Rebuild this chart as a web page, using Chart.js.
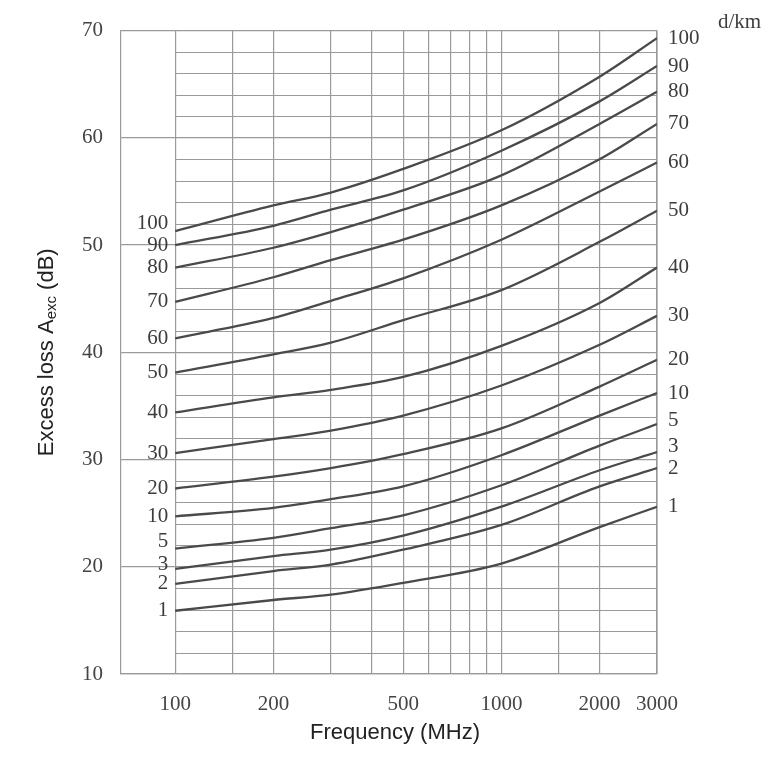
<!DOCTYPE html>
<html>
<head>
<meta charset="UTF-8">
<title>Excess loss vs frequency</title>
<script src="https://cdn.jsdelivr.net/npm/chart.js"></script>
<style>
    html, body { margin: 0; padding: 0; background: #fff; }
    #wrap { width: 777px; height: 772px; }
</style>
</head>
<body>
<div id="wrap"><canvas id="chart"></canvas></div>
<script>
// frequencies where the curves were read (MHz)
const freqs = [100, 200, 300, 500, 1000, 2000, 3000];
// vertical grid lines and labelled ticks
const freqGrid = [100, 150, 200, 300, 400, 500, 600, 700, 800, 900, 1000, 1500, 2000, 3000];
const freqLabels = [100, 200, 500, 1000, 2000, 3000];
// loss axis
const lossTicks = [10, 20, 30, 40, 50, 60, 70];
const lossMinor = [12, 14, 16, 18, 22, 24, 26, 28, 32, 34, 36, 38, 42, 44, 46, 48, 52, 54, 56, 58, 62, 64, 66, 68];

// excess loss (dB) per distance d/km
const d1   = [15.9, 16.9, 17.4, 18.5, 20.3, 23.7, 25.6];
const d2   = [18.4, 19.6, 20.2, 21.6, 23.9, 27.5, 29.2];
const d3   = [19.8, 21.0, 21.6, 22.9, 25.6, 29.0, 30.7];
const d5   = [21.7, 22.7, 23.6, 24.8, 27.6, 31.3, 33.3];
const d10  = [24.7, 25.5, 26.3, 27.5, 30.4, 34.1, 36.2];
const d20  = [27.3, 28.4, 29.2, 30.5, 32.9, 36.8, 39.3];
const d30  = [30.6, 31.9, 32.7, 34.1, 36.9, 40.7, 43.4];
const d40  = [34.4, 35.8, 36.5, 37.7, 40.6, 44.6, 47.9];
const d50  = [38.1, 39.8, 40.9, 43.0, 45.8, 50.3, 53.2];
const d60  = [41.3, 43.2, 44.8, 46.9, 50.5, 55.0, 57.7];
const d70  = [44.7, 47.0, 48.6, 50.5, 53.7, 58.0, 61.3];
const d80  = [47.9, 49.75, 51.2, 53.3, 56.5, 61.3, 64.3];
const d90  = [50.0, 51.8, 53.3, 55.1, 58.8, 63.4, 66.7];
const d100 = [51.3, 53.7, 54.9, 57.1, 60.7, 65.7, 69.3];

const distances = [1, 2, 3, 5, 10, 20, 30, 40, 50, 60, 70, 80, 90, 100];
const series = [d1, d2, d3, d5, d10, d20, d30, d40, d50, d60, d70, d80, d90, d100];

const serif = '"Liberation Serif", "DejaVu Serif", serif';
const sans = '"Liberation Sans", Arial, sans-serif';
const gridColor = '#9a9a9a';
const curveColor = '#4a4a4a';

// label nudges so they don't collide
const leftShift = { 100: -8, 5: -7, 3: -4 };
const rightShift = { 5: -4, 3: -6 };

const datasets = series.map((vals, i) => ({
    label: String(distances[i]),
    data: freqs.map((f, j) => ({ x: f, y: vals[j] })),
    borderColor: curveColor,
    borderWidth: 2.3,
    pointRadius: 0,
    fill: false,
    cubicInterpolationMode: 'monotone'
}));

const extras = {
    id: 'extras',
    beforeDatasetsDraw(chart) {
        const { ctx, chartArea, scales } = chart;
        const x0 = scales.x.getPixelForValue(freqGrid[0]);
        ctx.save();
        ctx.strokeStyle = gridColor;
        ctx.lineWidth = 1.2;
        lossMinor.forEach(v => {
            const y = Math.round(scales.y.getPixelForValue(v)) + 0.5;
            ctx.beginPath();
            ctx.moveTo(x0, y);
            ctx.lineTo(chartArea.right, y);
            ctx.stroke();
        });
        // right frame
        ctx.beginPath();
        ctx.moveTo(chartArea.right, chartArea.top);
        ctx.lineTo(chartArea.right, chartArea.bottom);
        ctx.stroke();
        ctx.restore();
    },
    afterDatasetsDraw(chart) {
        const { ctx, scales } = chart;
        ctx.save();
        ctx.fillStyle = '#3c3c3c';
        ctx.font = '21px ' + serif;
        ctx.textBaseline = 'middle';
        series.forEach((vals, i) => {
            const d = distances[i];
            const yl = scales.y.getPixelForValue(vals[0]) + (leftShift[d] || 0);
            ctx.textAlign = 'right';
            ctx.fillText(String(d), scales.x.getPixelForValue(freqs[0]) - 7, yl);
            const yr = scales.y.getPixelForValue(vals[vals.length - 1]) + (rightShift[d] || 0);
            ctx.textAlign = 'left';
            ctx.fillText(String(d), scales.x.getPixelForValue(freqs[freqs.length - 1]) + 11, yr);
        });
        ctx.textAlign = 'left';
        ctx.fillText('d/km', 718, 22);

        // axis titles
        const area = chart.chartArea;
        ctx.fillStyle = '#222';
        ctx.font = '22px ' + sans;
        ctx.textAlign = 'center';
        ctx.fillText('Frequency (MHz)', (area.left + area.right) / 2 + 6, 733);

        const p1 = 'Excess loss A', sub = 'exc', p2 = ' (dB)';
        ctx.font = '22px ' + sans;
        const w1 = ctx.measureText(p1).width, w3 = ctx.measureText(p2).width;
        ctx.font = '15px ' + sans;
        const w2 = ctx.measureText(sub).width;
        const total = w1 + w2 + w3;
        ctx.translate(47, (area.top + area.bottom) / 2);
        ctx.rotate(-Math.PI / 2);
        ctx.textAlign = 'left';
        let x = -total / 2;
        ctx.font = '22px ' + sans;
        ctx.fillText(p1, x, 0);
        x += w1;
        ctx.font = '15px ' + sans;
        ctx.fillText(sub, x, 5);
        x += w2;
        ctx.font = '22px ' + sans;
        ctx.fillText(p2, x, 0);
        ctx.restore();
    }
};

new Chart(document.getElementById('chart'), {
    type: 'line',
    data: { datasets },
    options: {
        responsive: true,
        maintainAspectRatio: false,
        animation: false,
        layout: { padding: { left: 0, right: 120, top: 29, bottom: 0 } },
        plugins: { legend: { display: false }, tooltip: { enabled: false } },
        scales: {
            x: {
                type: 'logarithmic',
                min: 68.2,
                max: 3000,
                afterBuildTicks: s => { s.ticks = freqGrid.map(v => ({ value: v })); },
                afterFit: s => { s.height = 98; },
                ticks: {
                    autoSkip: false,
                    maxRotation: 0,
                    padding: 18,
                    color: '#444',
                    font: { family: serif, size: 21 },
                    callback: v => freqLabels.includes(v) ? String(v) : ''
                },
                grid: { color: gridColor, lineWidth: 1.2, drawTicks: false },
                border: { display: true, color: gridColor, width: 1.2 }
            },
            y: {
                type: 'linear',
                min: 10,
                max: 70,
                afterBuildTicks: s => { s.ticks = lossTicks.map(v => ({ value: v })); },
                afterFit: s => { s.width = 121; },
                ticks: {
                    padding: 18,
                    color: '#444',
                    font: { family: serif, size: 21 }
                },
                grid: { color: gridColor, lineWidth: 1.2, drawTicks: false },
                border: { display: true, color: gridColor, width: 1.2 }
            }
        }
    },
    plugins: [extras]
});
</script>
</body>
</html>
